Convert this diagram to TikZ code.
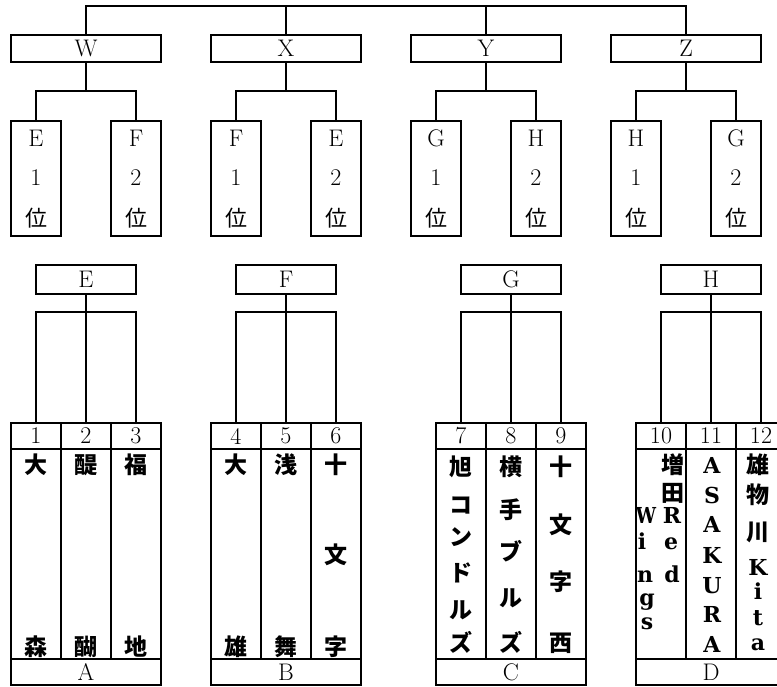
\documentclass[tikz,border=0pt]{standalone}
\usepackage{fontspec}
\newfontfamily\cjk{Noto Sans CJK JP}
\newfontfamily\latf{DejaVu Serif}
\begin{document}
\begin{tikzpicture}[x=1pt,y=-1pt,line width=1.6pt,
  lm/.style={font={\fontsize{24}{24}\selectfont}},
  topbox/.style={draw,minimum width=150pt,minimum height=27pt,inner sep=0pt,lm},
  seedbox/.style={draw,minimum width=50pt,minimum height=115pt,inner sep=0pt},
  grpbox/.style={draw,minimum width=100pt,minimum height=29pt,inner sep=0pt,lm},
  numcell/.style={draw,minimum width=50pt,minimum height=26pt,inner sep=0pt,lm},
  namecell/.style={draw,minimum width=50pt,minimum height=210pt,inner sep=0pt},
  lettercell/.style={draw,minimum width=150pt,minimum height=26pt,inner sep=0pt,lm},
  lab/.style={inner sep=0pt,lm},
  rank/.style={inner sep=0pt,text height=19.4pt,text depth=2.6pt,font={\cjk\fontsize{22}{22}\selectfont}},
  cj/.style={inner sep=0pt,text height=20.2pt,text depth=2.8pt,font={\cjk\bfseries\fontsize{23}{23}\selectfont}},
  lt/.style={inner sep=0pt,anchor=base,font={\latf\bfseries\fontsize{22}{22}\selectfont}}]
\useasboundingbox (0,0) rectangle (777,686);
\clip (0,0) rectangle (777,686);

% ---- top level boxes
\node[topbox] (W) at (86,48.5) {W};
\node[topbox] (X) at (286,48.5) {X};
\node[topbox] (Y) at (486,48.5) {Y};
\node[topbox] (Z) at (686,48.5) {Z};
\coordinate (top) at (0,6);
\draw (W.north) -- (W.north |- top) -- (Z.north |- top) -- (Z.north);
\draw (X.north) -- (X.north |- top);
\draw (Y.north) -- (Y.north |- top);

% ---- seed boxes
\foreach \p/\x/\g/\r in {W1/36/E/1, W2/136/F/2, X1/236/F/1, X2/336/E/2,
                         Y1/436/G/1, Y2/536/H/2, Z1/636/H/1, Z2/736/G/2}{
  \node[seedbox] (s\p) at (\x,178.5) {};
  \node[lab] (g\p) at (\x,138) {\g};
  \node[lab] (r\p) at (\x,178) {\r};
  \node[rank] (k\p) at (\x,218) {位};
}
\foreach \t in {W,X,Y,Z}{
  \draw (\t.south) -- ++(0,29.5);
  \draw (s\t1.north) -- ++(0,-29.5) -| (s\t2.north);
}

% ---- group boxes
\node[grpbox] (E) at (86,279.5) {E};
\node[grpbox] (F) at (286,279.5) {F};
\node[grpbox] (G) at (511,279.5) {G};
\node[grpbox] (H) at (711,279.5) {H};

% ---- tables
\foreach \i/\x in {1/36,2/86,3/136,4/236,5/286,6/336,7/461,8/511,9/561,10/661,11/711,12/761}{
  \node[numcell] (n\i) at (\x,436) {\i};
  \node[namecell] (c\i) at (\x,554) {};
}
\node[lettercell] (LA) at (86,672) {A};
\node[lettercell] (LB) at (286,672) {B};
\node[lettercell] (LC) at (511,672) {C};
\node[lettercell] (LD) at (711,672) {D};

\foreach \g/\a/\b/\c in {E/1/2/3, F/4/5/6, G/7/8/9, H/10/11/12}{
  \draw (\g.south) -- (n\b.north);
  \draw (n\a.north) -- ++(0,-110) -| (n\c.north);
}

% ---- team names
\foreach \x/\ch/\y in {36/大/465, 36/森/647, 86/醍/465, 86/醐/647, 136/福/465, 136/地/647,
  236/大/465, 236/雄/647, 286/浅/465, 286/舞/647, 336/十/465, 336/文/555, 336/字/647,
  461/旭/467, 461/コ/505, 461/ン/537, 461/ド/573, 461/ル/610, 461/ズ/643,
  511/横/467, 511/手/510, 511/ブ/552, 511/ル/598, 511/ズ/643,
  561/十/467, 561/文/525, 561/字/582, 561/西/643,
  673/増/465, 673/田/493, 758/雄/465, 758/物/495, 758/川/532}{
  \node[cj] at (\x,\y) {\ch};
}
\node[lt] (wW) at (646,523) {\scalebox{0.82}[1]{W}};
\foreach \x/\ch/\y in {642/i/549, 645/n/582, 647/g/605, 647/s/629,
  672/R/523, 671/e/549, 672/d/582,
  712/A/473, 712/S/503, 712/A/532, 712/K/563, 712/U/593, 712/R/622, 712/A/652,
  758/K/575, 758/i/599, 758/t/625, 758/a/650}{
  \node[lt] at (\x,\y) {\ch};
}
\end{tikzpicture}
\end{document}
